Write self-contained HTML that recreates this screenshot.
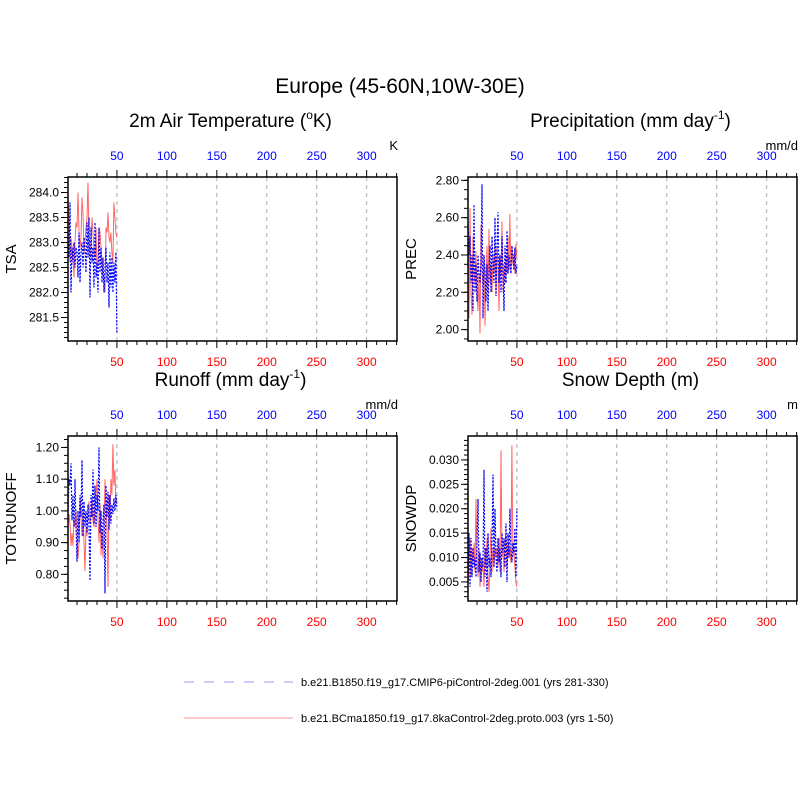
<!DOCTYPE html>
<html><head><meta charset="utf-8"><style>
body{margin:0;background:#fff;}
svg{display:block;font-family:"Liberation Sans",sans-serif;}
</style></head><body>
<svg id="fig" width="800" height="800" viewBox="0 0 800 800">
<rect width="800" height="800" fill="#fff"/>
<text x="400" y="93" font-size="21" text-anchor="middle">Europe (45-60N,10W-30E)</text>
<g id="legend">
<line x1="184" y1="682" x2="293" y2="682" stroke="#aab0ff" stroke-width="1.3" stroke-dasharray="10,10"/>
<text x="301" y="686" font-size="11">b.e21.B1850.f19_g17.CMIP6-piControl-2deg.001 (yrs 281-330)</text>
<line x1="184" y1="718" x2="293" y2="718" stroke="#ffaaaa" stroke-width="1.3"/>
<text x="301" y="722" font-size="11">b.e21.BCma1850.f19_g17.8kaControl-2deg.proto.003 (yrs 1-50)</text>
</g>
</svg>
<script>
const xTicks = [50,100,150,200,250,300];
const tsaRed = [283.9,283.4,282.6,283.1,282.9,282.7,282.3,283.0,283.4,283.3,284.0,283.2,282.9,283.1,283.9,283.6,282.8,283.0,283.3,283.5,284.2,283.1,282.7,283.0,283.5,283.2,282.8,282.7,283.3,282.5,282.6,283.3,283.2,282.9,282.6,282.4,282.2,282.0,283.3,283.2,283.6,283.1,283.0,283.2,282.8,282.6,283.8,283.5,283.2,283.1];
const tsaBlue = [283.1,282.7,283.8,282.0,282.9,282.6,283.0,282.5,282.9,282.8,282.3,283.2,282.2,282.8,283.0,282.5,283.1,282.9,282.4,283.4,282.7,283.5,281.9,283.3,282.6,282.9,282.1,283.4,282.3,282.6,282.0,283.3,282.4,282.9,282.2,282.7,282.0,282.5,282.9,282.2,282.6,281.7,282.8,282.1,282.7,282.0,282.6,282.2,282.8,281.2];
const precRed = [2.60,2.06,2.65,2.20,2.08,2.50,2.30,2.25,2.42,2.20,2.10,2.30,1.98,2.56,2.30,2.24,2.35,2.02,2.30,2.45,2.20,2.54,2.25,2.35,2.20,2.40,2.30,2.48,2.18,2.45,2.35,2.10,2.40,2.30,2.58,2.20,2.35,2.25,2.40,2.30,2.50,2.32,2.62,2.30,2.45,2.35,2.40,2.30,2.46,2.38];
const precBlue = [2.60,2.40,2.50,2.25,2.40,2.10,2.67,2.20,2.35,2.15,2.40,2.30,2.25,2.35,2.78,2.06,2.40,2.30,2.15,2.35,2.10,2.30,2.45,2.20,2.50,2.35,2.25,2.60,2.18,2.45,2.63,2.25,2.40,2.20,2.50,2.30,2.10,2.45,2.25,2.53,2.30,2.40,2.35,2.30,2.45,2.40,2.32,2.44,2.30,2.35];
const runRed = [0.95,0.99,0.96,0.89,0.93,0.89,0.98,0.95,1.00,0.93,0.85,0.90,1.04,0.98,0.92,1.00,0.90,0.81,0.95,0.92,1.00,1.03,0.96,0.98,1.04,0.97,0.95,1.00,1.05,1.10,0.98,0.90,1.02,0.86,0.94,0.85,0.95,1.10,1.00,0.95,0.76,1.05,0.97,1.10,1.05,1.21,1.08,1.13,1.02,1.04];
const runBlue = [1.00,1.10,1.08,1.15,0.97,1.05,0.95,1.10,0.95,0.84,1.00,0.90,1.05,0.98,1.16,0.92,1.03,0.95,1.00,0.93,1.02,0.95,0.78,1.05,0.98,1.13,0.96,1.08,0.95,1.05,1.00,1.20,0.93,1.00,0.88,0.97,1.02,0.74,1.08,0.98,1.06,0.94,1.05,0.96,1.02,0.99,1.04,1.00,1.05,1.01];
const snowRed = [0.004,0.010,0.014,0.006,0.012,0.009,0.013,0.007,0.022,0.010,0.006,0.012,0.004,0.010,0.007,0.009,0.004,0.012,0.008,0.014,0.006,0.003,0.010,0.016,0.007,0.012,0.008,0.012,0.010,0.012,0.008,0.014,0.007,0.032,0.010,0.012,0.007,0.013,0.015,0.008,0.013,0.010,0.012,0.009,0.033,0.010,0.012,0.008,0.005,0.004];
const snowBlue = [0.005,0.015,0.004,0.014,0.006,0.012,0.008,0.010,0.006,0.013,0.022,0.007,0.011,0.005,0.010,0.008,0.028,0.006,0.012,0.003,0.015,0.008,0.010,0.006,0.013,0.027,0.008,0.020,0.010,0.007,0.014,0.009,0.012,0.006,0.015,0.011,0.014,0.008,0.017,0.005,0.015,0.010,0.020,0.012,0.009,0.013,0.011,0.016,0.006,0.020];
const tsaTicks = [281.5,282.0,282.5,283.0,283.5,284.0];
const precTicks = [2.00,2.20,2.40,2.60,2.80];
const runTicks = [0.80,0.90,1.00,1.10,1.20];
const snowTicks = [0.005,0.010,0.015,0.020,0.025,0.030];

const NS="http://www.w3.org/2000/svg";
const svg=document.getElementById('fig');
function mk(tag,attrs,parent){const e=document.createElementNS(NS,tag);for(const k in attrs)e.setAttribute(k,attrs[k]);(parent||svg).appendChild(e);return e;}

const panels=[
 {id:'tsa',x0:68,y0:177,y1:341,ymin:281.03,ymax:284.31,ticks:tsaTicks,minor:0.1,dec:1,red:tsaRed,blue:tsaBlue,ylab:'TSA',unit:'K',title:'2m Air Temperature (',sup:'o',post:'K)'},
 {id:'prec',x0:468,y0:177,y1:341,ymin:1.939,ymax:2.818,ticks:precTicks,minor:0.05,dec:2,red:precRed,blue:precBlue,ylab:'PREC',unit:'mm/d',title:'Precipitation (mm day',sup:'-1',post:')'},
 {id:'runoff',x0:68,y0:436,y1:601,ymin:0.716,ymax:1.236,ticks:runTicks,minor:0.025,dec:2,red:runRed,blue:runBlue,ylab:'TOTRUNOFF',unit:'mm/d',title:'Runoff (mm day',sup:'-1',post:')'},
 {id:'snow',x0:468,y0:436,y1:601,ymin:0.0011,ymax:0.0349,ticks:snowTicks,minor:0.001,dec:3,red:snowRed,blue:snowBlue,ylab:'SNOWDP',unit:'m',title:'Snow Depth (m)',sup:'',post:''}
];
const W=329, XMIN=1, XMAX=330.4;

panels.forEach(p=>{
 const g=mk('g',{});
 
 
 const sx=v=>p.x0+(v-XMIN)/(XMAX-XMIN)*W;
 const sy=v=>p.y1-(v-p.ymin)/(p.ymax-p.ymin)*(p.y1-p.y0);
 const cx=p.x0+W/2-2;
 const t=mk('text',{x:cx,y:p.y0-50,'font-size':19,'text-anchor':'middle'},g);
 
 
 t.textContent=p.title;
 if(p.sup){const s=mk('tspan',{dy:-8,'font-size':12},t);s.textContent=p.sup;const s2=mk('tspan',{dy:8},t);s2.textContent=p.post;}
 const u=mk('text',{x:p.x0+W+1,y:p.y0-27,'font-size':13,'text-anchor':'end'},g);
 
 
 u.textContent=p.unit;
 xTicks.forEach(v=>{
  const l=mk('line',{x1:sx(v),x2:sx(v),y1:p.y0,y2:p.y1,stroke:'#aaa','stroke-width':1,'stroke-dasharray':'4,4'},g);
  
  
 });
 for(let v=10;v<=330;v+=10){
  const major=v%50===0;const len=major?7:4;
  mk('line',{x1:sx(v),x2:sx(v),y1:p.y0,y2:p.y0-len,stroke:'#000','stroke-width':1},g);
  mk('line',{x1:sx(v),x2:sx(v),y1:p.y1,y2:p.y1+len,stroke:'#000','stroke-width':1},g);
 }
 xTicks.forEach(v=>{
  const a=mk('text',{x:sx(v),y:p.y0-17,'font-size':12,fill:'#0000ff','text-anchor':'middle'},g);
  
  
  a.textContent=v;
  const b=mk('text',{x:sx(v),y:p.y1+25,'font-size':12,fill:'#ff0000','text-anchor':'middle'},g);
  
  
  b.textContent=v;
 });
 const start=Math.ceil(p.ymin/p.minor-1e-6);
 for(let k=start;k*p.minor<=p.ymax+1e-9;k++){
  const v=k*p.minor;const y=sy(v);
  mk('line',{x1:p.x0,x2:p.x0-4,y1:y,y2:y,stroke:'#000','stroke-width':1},g);
 }
 p.ticks.forEach(v=>{
  const y=sy(v);
  mk('line',{x1:p.x0,x2:p.x0-7,y1:y,y2:y,stroke:'#000','stroke-width':1},g);
  const a=mk('text',{x:p.x0-9,y:y+4,'font-size':12,'text-anchor':'end'},g);
  
  
  a.textContent=v.toFixed(p.dec);
 });
 const yl=mk('text',{x:0,y:0,'font-size':15,'text-anchor':'middle',transform:`translate(${p.x0-52},${(p.y0+p.y1)/2}) rotate(-90)`},g);
 
 
 yl.textContent=p.ylab;
 const pts=arr=>arr.map((v,i)=>sx(i+1).toFixed(1)+','+sy(v).toFixed(1)).join(' ');
 const r=mk('polyline',{points:pts(p.red),fill:'none',stroke:'#ff6666','stroke-width':1},g);
 
 
 const bl=mk('polyline',{points:pts(p.blue),fill:'none',stroke:'#0000ff','stroke-width':1.2,'stroke-dasharray':'2,1.5'},g);
 
 
 const fr=mk('rect',{x:p.x0,y:p.y0,width:W,height:p.y1-p.y0,fill:'none',stroke:'#000','stroke-width':1.5},g);
 
 
});
</script>
</body></html>
